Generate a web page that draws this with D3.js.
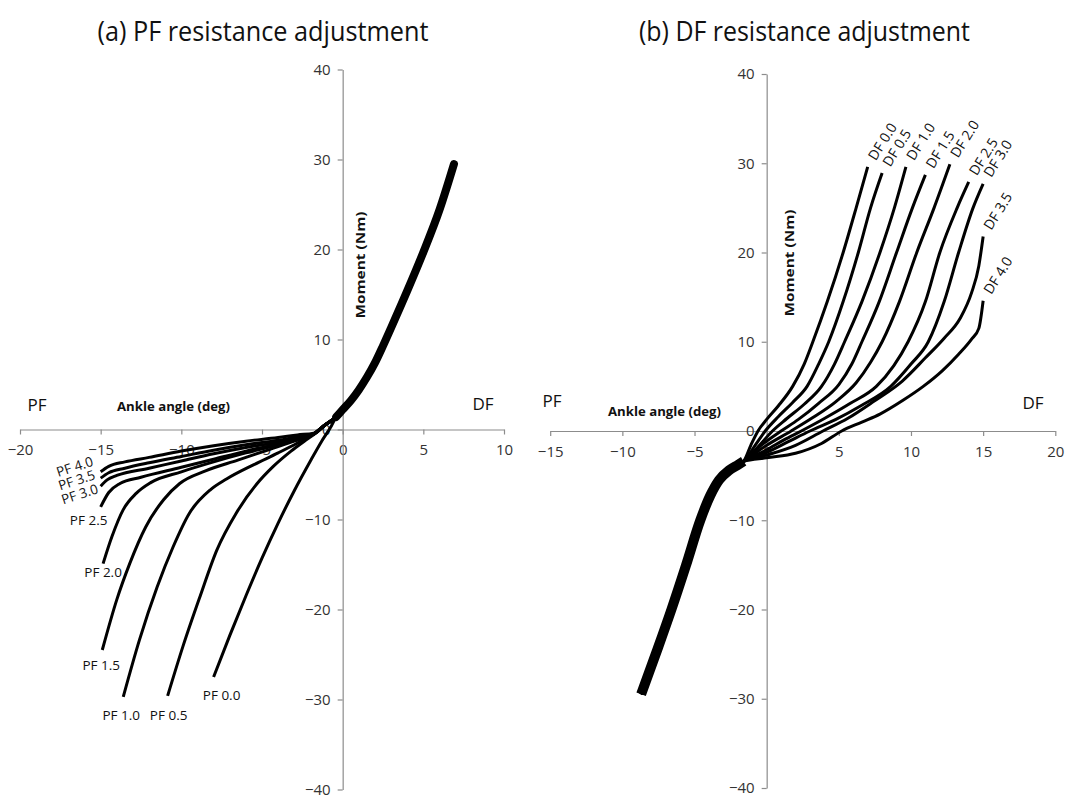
<!DOCTYPE html>
<html>
<head>
<meta charset="utf-8">
<script src="https://cdn.jsdelivr.net/npm/d3@7"></script>
<style>
  html, body { margin: 0; padding: 0; background: #fff; }
  svg { display: block; }
  text { font-family: "Open Sans", "Noto Sans", sans-serif; }
</style>
</head>
<body>
<svg id="chart" width="1065" height="799"></svg>
<script>
// ---------------- data ----------------
const titles = ["(a) PF resistance adjustment", "(b) DF resistance adjustment"];
const xTicksA = [-20, -15, -10, -5, 0, 5, 10];
const xTicksB = [-15, -10, -5, 0, 5, 10, 15, 20];
const yTicks = [-40, -30, -20, -10, 0, 10, 20, 30, 40];

// Panel (a): shared dorsiflexion part (all PF settings overlap here)
const sharedA = [[-0.4,1.4],[0,2.2],[0.5,3.2],[1,4.4],[1.5,5.8],[2,7.4],[2.5,9.3],[3,11.3],[4,15.4],[5,19.7],[6,24.4],[6.9,29.5]];
const pfLabels = ["PF 0.0","PF 0.5","PF 1.0","PF 1.5","PF 2.0","PF 2.5","PF 3.0","PF 3.5","PF 4.0"];
const pf00 = [[-8.0,-27.5],[-7.0,-22.9],[-6.0,-18.5],[-5.0,-14.3],[-4.0,-10.4],[-3.0,-6.8],[-2.0,-3.5],[-1.3,-1.3],[-0.7,0.4]];
const pf05 = [[-10.85,-29.6],[-9.9,-24.1],[-8.85,-18.6],[-7.8,-13.4],[-6.6,-9.3],[-5.3,-6.0],[-4.3,-4.1],[-3.2,-2.4],[-2.3,-1.2],[-1.6,-0.3],[-1.0,0.6]];
const pf10 = [[-13.6,-29.7],[-12.6,-23.4],[-11.5,-17.5],[-10.5,-13.0],[-9.5,-9.3],[-8.2,-6.7],[-7.2,-5.5],[-5.5,-3.9],[-4.0,-2.6],[-2.8,-1.5],[-1.8,-0.5],[-1.1,0.5]];
const pf15 = [[-14.9,-24.5],[-14.0,-18.9],[-13.2,-14.9],[-12.2,-10.8],[-11.1,-7.8],[-10.1,-6.0],[-8.5,-4.6],[-6.5,-3.4],[-4.5,-2.2],[-3.0,-1.3],[-1.8,-0.5],[-1.1,0.5]];
const pf20 = [[-14.85,-14.9],[-14.3,-11.9],[-13.6,-8.9],[-12.8,-7.1],[-11.9,-5.9],[-10,-4.7],[-8,-3.6],[-6,-2.6],[-4,-1.7],[-2.8,-1.1],[-1.8,-0.5],[-1.1,0.5]];
const pf25 = [[-15,-8.6],[-14.5,-7.0],[-13.8,-6.0],[-12.5,-5.3],[-10,-4.2],[-8,-3.3],[-6,-2.4],[-4,-1.6],[-2.8,-1.0],[-1.8,-0.5],[-1.1,0.5]];
const pf30 = [[-15,-6.3],[-14.6,-5.6],[-14,-5.1],[-12,-4.3],[-10,-3.5],[-8,-2.7],[-6,-2.0],[-4,-1.4],[-2.8,-0.9],[-1.8,-0.5],[-1.1,0.5]];
const pf35 = [[-15,-5.4],[-14.5,-4.8],[-13.5,-4.3],[-12,-3.7],[-10,-3.0],[-8,-2.3],[-6,-1.7],[-4,-1.2],[-2.8,-0.8],[-1.8,-0.5],[-1.1,0.5]];
const pf40 = [[-15,-4.7],[-14.5,-4.1],[-13.5,-3.6],[-12,-3.1],[-10,-2.4],[-8,-1.8],[-6,-1.3],[-4,-0.9],[-2.8,-0.6],[-1.8,-0.4],[-1.1,0.5]];
const pfCurves = [pf00, pf05, pf10, pf15, pf20, pf25, pf30, pf35, pf40];

// Panel (b): shared plantarflexion part (all DF settings overlap here)
const sharedB = [[-8.7,-29.5],[-7.6,-24.6],[-6.6,-20],[-5.6,-15.1],[-4.6,-10],[-3.9,-7.2],[-3.3,-5.5],[-2.6,-4.4],[-2.0,-3.8],[-1.6,-3.4]];
const dfLabels = ["DF 0.0","DF 0.5","DF 1.0","DF 1.5","DF 2.0","DF 2.5","DF 3.0","DF 3.5","DF 4.0"];
const df00 = [[-1.6,-3.4],[-1.1,-1.6],[-0.6,0],[0,1.3],[0.8,2.8],[1.8,5.0],[2.6,7.5],[3.2,10],[4.2,14.5],[5.3,20],[6.2,25],[7.0,29.6]];
const df05 = [[-1.6,-3.4],[-0.8,-1.6],[-0.1,0],[0.8,1.6],[1.8,3.2],[2.8,5.0],[3.6,7.5],[4.3,10],[5.3,14.5],[6.35,20],[7.2,25],[8.0,28.9]];
const df10 = [[-1.6,-3.4],[-0.5,-1.6],[0.4,0],[1.4,1.4],[2.6,3.0],[3.8,5.0],[4.7,7.5],[5.4,10],[6.6,14.5],[7.85,20],[8.85,25],[9.65,29.6]];
const df15 = [[-1.6,-3.4],[-0.3,-1.5],[1.0,0],[2.2,1.3],[3.6,3.1],[5.0,5.2],[5.9,7.5],[6.6,10],[7.8,14.5],[9.0,20],[10.1,25],[11.0,28.7]];
const df20 = [[-1.6,-3.4],[0,-1.6],[1.7,0],[3.2,1.5],[4.8,3.3],[6.2,5.4],[7.2,7.7],[8.0,10],[9.2,14.5],[10.4,20],[11.6,25],[12.7,29.9]];
const df25 = [[-1.6,-3.4],[0,-2.1],[1.2,-1.0],[2.4,0],[4.0,1.4],[5.8,3.1],[7.6,5.0],[8.8,7.3],[9.8,10],[11.0,14.5],[12.0,20],[13.2,25],[14.0,27.9]];
const df30 = [[-1.6,-3.4],[0,-2.4],[1.5,-1.2],[3.0,0],[4.8,1.3],[6.5,2.8],[8.6,5.0],[10.0,7.5],[11.2,10],[12.3,14.5],[13.3,20],[14.3,25],[15.0,27.7]];
const df35 = [[-1.6,-3.4],[0,-2.7],[2.0,-1.6],[3.9,0],[5.6,1.4],[7.4,3.3],[9.4,5.6],[11.0,8.2],[12.3,10.4],[13.4,12.6],[14.2,15.5],[14.7,18.5],[15.0,21.8]];
const df40 = [[-1.6,-3.4],[0,-3.0],[2.0,-2.5],[3.8,-1.4],[5.2,0],[6.6,1.0],[7.85,1.9],[9.5,3.5],[10.85,5.0],[12.2,6.8],[13.3,8.6],[14.2,10.3],[14.7,11.5],[15.0,14.6]];
const dfCurves = [df00, df05, df10, df15, df20, df25, df30, df35, df40];

// ---------------- layout ----------------
const svg = d3.select("#chart");
const axisColor = "#8c8c8c";
const textColor = "#333";

const xA = d3.scaleLinear().domain([-20, 10]).range([20, 504]);
const yA = d3.scaleLinear().domain([-40, 40]).range([789.5, 69.5]);
const xB = d3.scaleLinear().domain([-15, 20]).range([550.2, 1055.3]);
const yB = d3.scaleLinear().domain([-40, 40]).range([788, 74]);

function drawAxes(x, y, xTicks) {
  const gx = svg.append("g").attr("transform", `translate(0,${y(0)})`)
    .call(d3.axisBottom(x).tickValues(xTicks).tickSize(5).tickSizeOuter(0).tickPadding(10).tickFormat(d3.format("d")));
  const gy = svg.append("g").attr("transform", `translate(${x(0)},0)`)
    .call(d3.axisLeft(y).tickValues(yTicks).tickSize(5).tickSizeOuter(0).tickPadding(7).tickFormat(d3.format("d")));
  [gx, gy].forEach(g => {
    g.attr("font-size", null).attr("font-family", null);
    g.select(".domain").attr("stroke", axisColor).attr("stroke-width", 1.2);
    g.selectAll(".tick line").attr("stroke", axisColor).attr("stroke-width", 1.2);
    g.selectAll(".tick text").attr("fill", textColor).style("font-size", "15px")
      .style("font-family", "'Open Sans', sans-serif");
  });
}
drawAxes(xA, yA, xTicksA);
drawAxes(xB, yB, xTicksB);

// Titles
const titleX = [263, 804.5];
titles.forEach((t, i) => {
  svg.append("text").attr("x", titleX[i]).attr("y", 41).attr("text-anchor", "middle")
    .attr("textLength", 331).attr("lengthAdjust", "spacingAndGlyphs")
    .style("font-size", "27px").attr("fill", "#111").text(t);
});

// Axis names
function axisText(x, y, txt, opts) {
  const t = svg.append("text").attr("x", x).attr("y", y).attr("text-anchor", "middle")
    .attr("dy", "0.35em").attr("fill", "#111").text(txt);
  if (opts.bold) t.style("font-weight", "bold");
  t.style("font-size", opts.size + "px");
  if (opts.len) t.attr("textLength", opts.len).attr("lengthAdjust", "spacingAndGlyphs");
  if (opts.rot) t.attr("transform", `rotate(${opts.rot},${x},${y})`);
  return t;
}
axisText(37, 405, "PF", {size: 17});
axisText(483, 404, "DF", {size: 17});
axisText(173.5, 407, "Ankle angle (deg)", {size: 12.5, bold: true, len: 113});
axisText(360, 265, "Moment  (Nm)", {size: 13, bold: true, len: 107, rot: -90});
axisText(552, 401, "PF", {size: 17});
axisText(1033, 403, "DF", {size: 17});
axisText(664.5, 412, "Ankle angle (deg)", {size: 12.5, bold: true, len: 113});
axisText(789, 263, "Moment (Nm)", {size: 13, bold: true, len: 107, rot: -90});

// Curves
function lineGen(x, y) {
  return d3.line().x(d => x(d[0])).y(d => y(d[1])).curve(d3.curveMonotoneX);
}
const lA = lineGen(xA, yA), lB = lineGen(xB, yB);

const gA = svg.append("g");
pfCurves.forEach(c => {
  gA.append("path").attr("d", lA(c.concat(sharedA))).attr("fill", "none")
    .attr("stroke", "#000").attr("stroke-width", 3).attr("stroke-linejoin", "round");
});
gA.append("path").attr("d", lA(sharedA)).attr("fill", "none")
  .attr("stroke", "#000").attr("stroke-width", 8).attr("stroke-linecap", "round");

const gB = svg.append("g");
dfCurves.forEach(c => {
  gB.append("path").attr("d", lB(sharedB.concat(c.slice(1)))).attr("fill", "none")
    .attr("stroke", "#000").attr("stroke-width", 3).attr("stroke-linejoin", "round");
});
gB.append("path").attr("d", lB(sharedB)).attr("fill", "none")
  .attr("stroke", "#000").attr("stroke-width", 10).attr("stroke-linecap", "butt");

// Curve labels (panel a): offsets from each curve's end
const pfLabelOffsets = [[8,18,0],[1,19,0],[-2,18,0],[-1,15,0],[0,9,0],[-12,13,0],[-21,8,-18],[-24,2,-18],[-26,-5,-18]];
pfCurves.forEach((c, i) => {
  const p = c[0], o = pfLabelOffsets[i];
  const px = xA(p[0]) + o[0], py = yA(p[1]) + o[1];
  svg.append("text").attr("x", px).attr("y", py).attr("dy", "0.35em").attr("text-anchor", "middle")
    .attr("transform", `rotate(${o[2]},${px},${py})`)
    .style("font-size", "13.5px").attr("fill", "#111").text(pfLabels[i]);
});

// Curve labels (panel b): rotated, starting just beyond each curve's end
dfCurves.forEach((c, i) => {
  const p = c[c.length - 1];
  const px = xB(p[0]) + 4, py = yB(p[1]) - 8;
  svg.append("text").attr("x", px).attr("y", py).attr("dy", "0.35em").attr("text-anchor", "start")
    .attr("transform", `rotate(-58,${px},${py})`)
    .style("font-size", "14px").attr("fill", "#111").text(dfLabels[i]);
});
</script>
</body>
</html>
